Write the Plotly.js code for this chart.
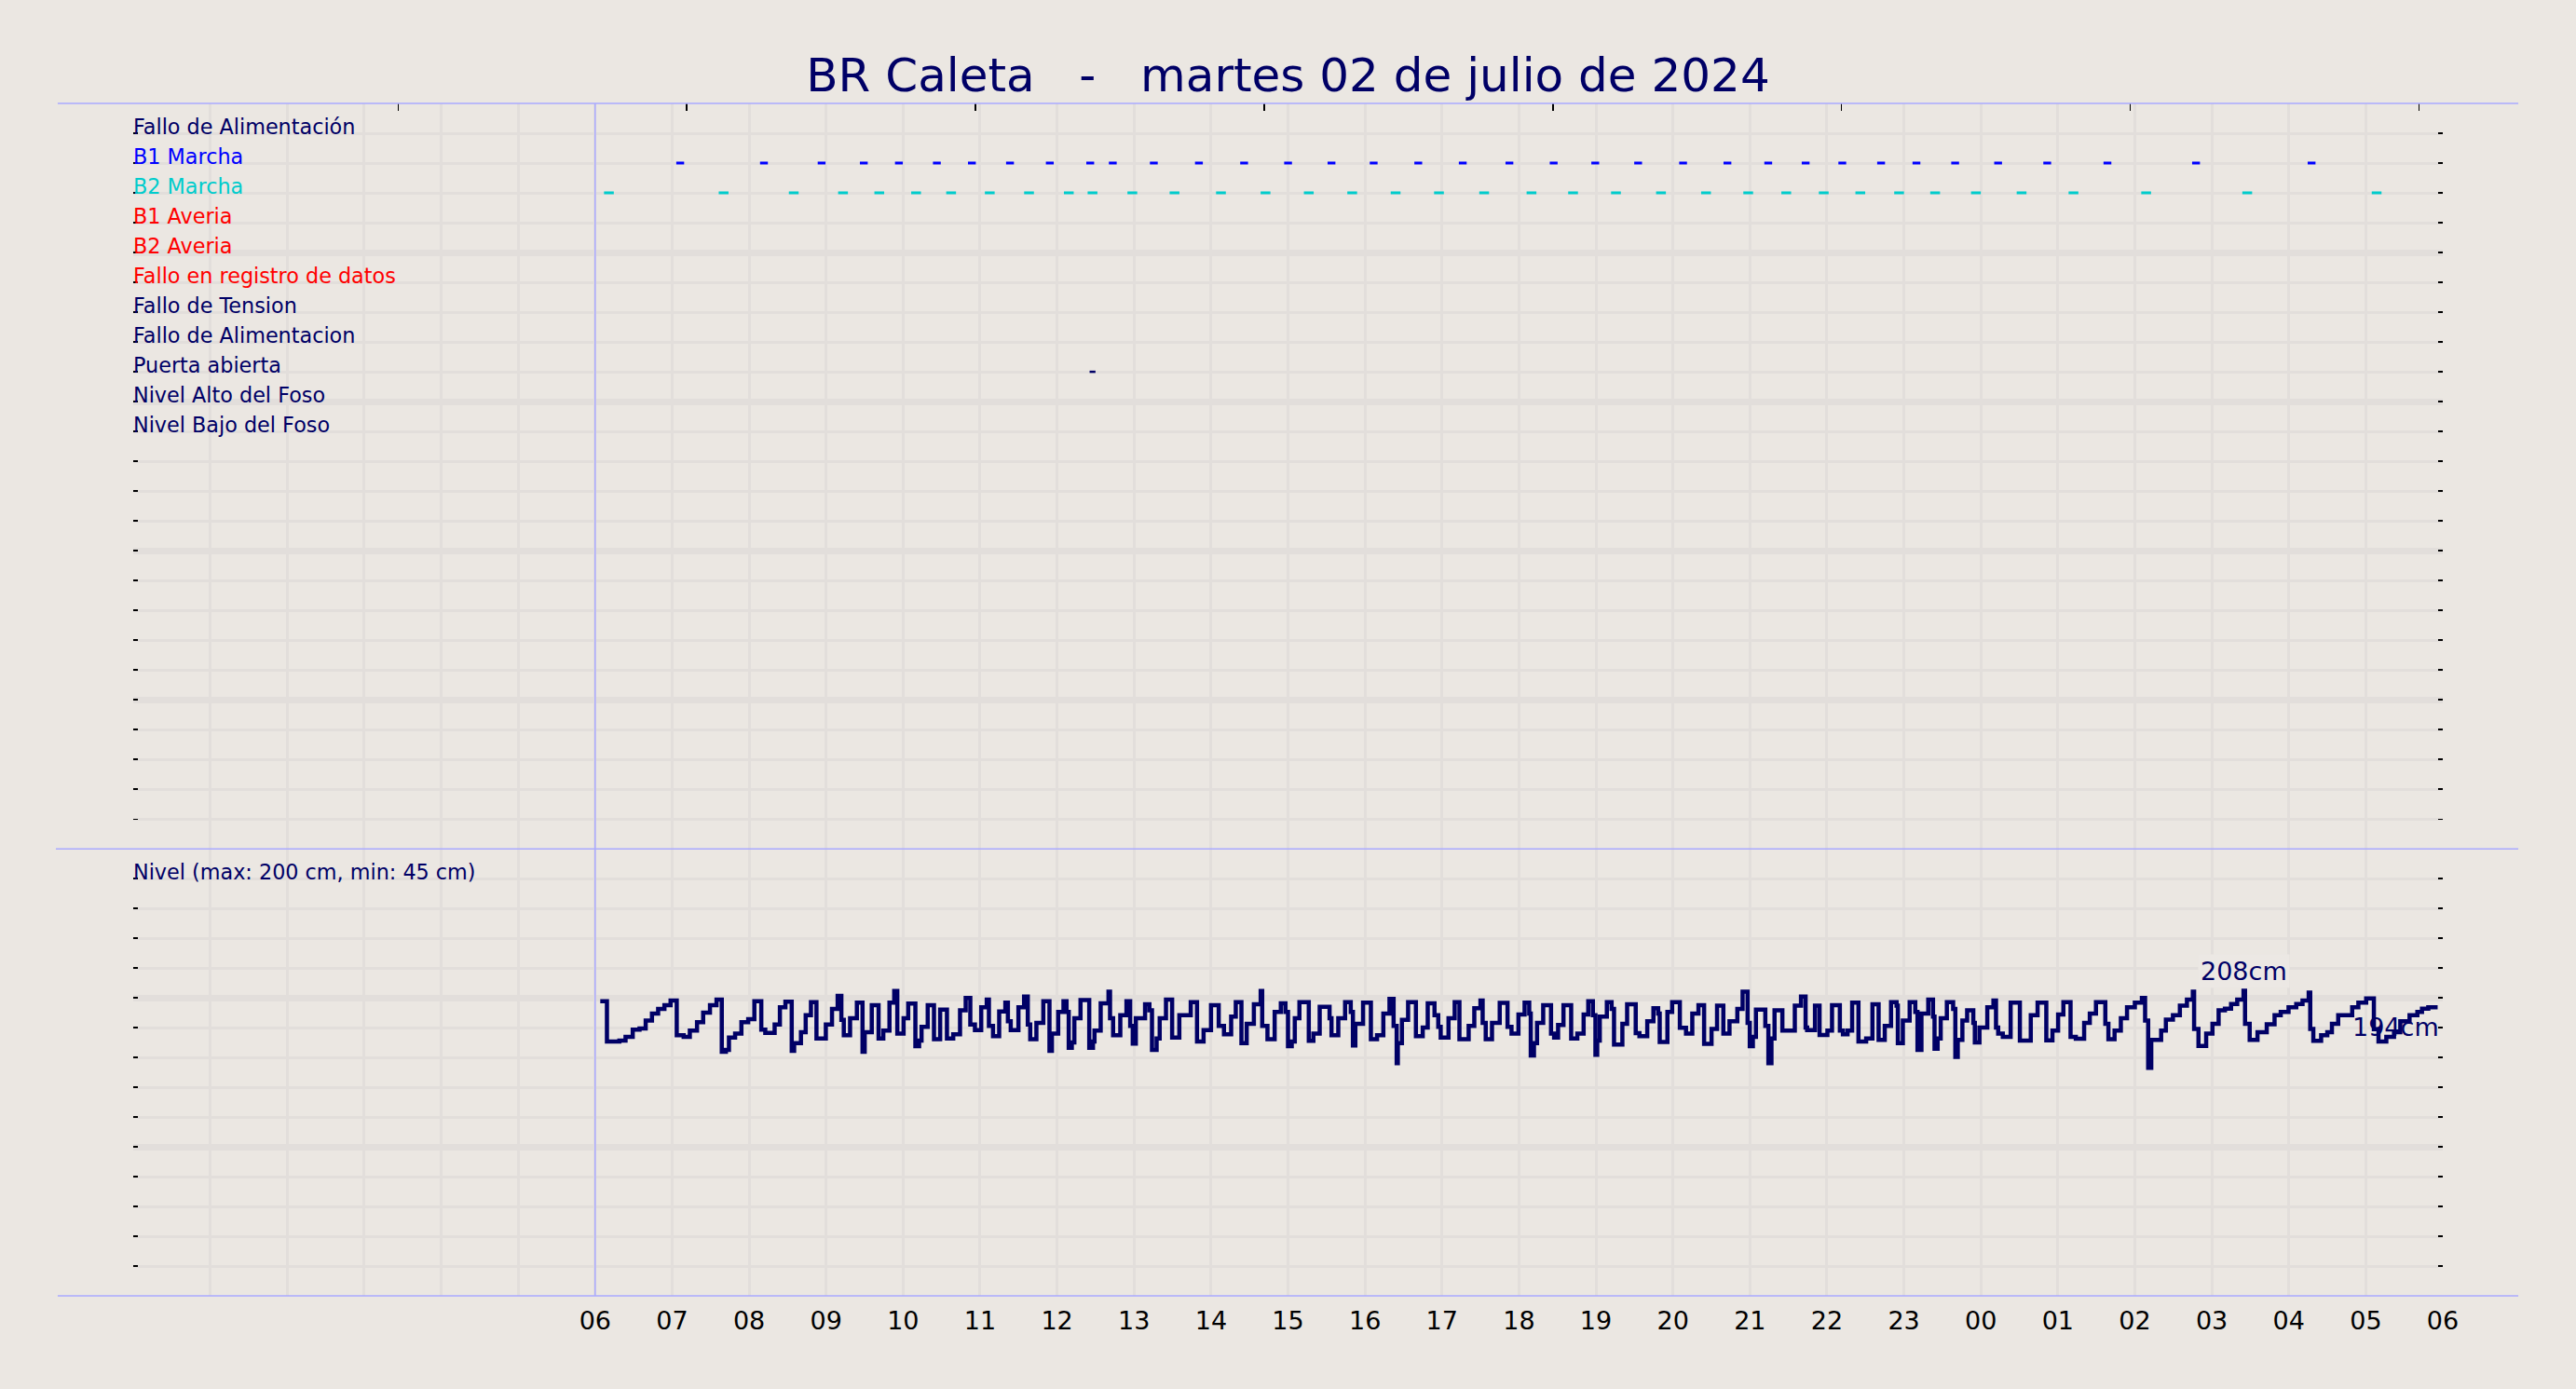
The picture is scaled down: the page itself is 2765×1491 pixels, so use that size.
<!DOCTYPE html>
<html>
<head>
<meta charset="utf-8">
<script src="https://cdn.plot.ly/plotly-3.0.1.min.js"></script>
<style>html,body{margin:0;padding:0;background:#ebe7e2;}</style>
</head>
<body>
<div id="chart" style="width:2765px;height:1491px;"></div>
<script>
// ---------- DATA ----------
const chartTitle = 'BR Caleta\u00a0\u00a0\u00a0-\u00a0\u00a0\u00a0martes 02 de julio de 2024';

const signalLabels = ['Fallo de Alimentación','B1 Marcha','B2 Marcha','B1 Averia','B2 Averia',
  'Fallo en registro de datos','Fallo de Tension','Fallo de Alimentacion','Puerta abierta',
  'Nivel Alto del Foso','Nivel Bajo del Foso'];
const signalColors = ['#000066','#0000ff','#00cccc','#ff0000','#ff0000','#ff0000',
  '#000066','#000066','#000066','#000066','#000066'];

const levelLabel = 'Nivel (max: 200 cm, min: 45 cm)';

// event times (hours on the 0-30 axis; 6 = 06:00)
const b1MarchaHours = [7.105,8.193,8.942,9.490,9.946,10.439,10.894,11.389,11.906,12.431,12.724,13.257,
  13.843,14.430,15.001,15.565,16.113,16.692,17.270,17.876,18.451,18.991,19.548,20.132,20.708,21.238,
  21.724,22.200,22.704,23.163,23.666,24.224,24.862,25.644,26.795,28.296];
const b2MarchaHours = [6.179,7.669,8.580,9.220,9.691,10.169,10.624,11.126,11.636,12.153,12.461,12.978,
  13.526,14.129,14.708,15.270,15.834,16.398,16.961,17.548,18.163,18.703,19.260,19.845,20.430,20.978,
  21.472,21.959,22.434,22.938,23.406,23.936,24.529,25.203,26.147,27.460,29.141];
const puertaHours = [12.461];

// level: minutes after 06:00 and centimetres
const levelMin = [4.0,9.2,18.9,23.7,29.3,34.6,39.4,44.3,49.1,54.0,58.8,63.6,69.0,73.8,79.4,84.2,89.5,94.6,
  98.7,101.9,104.3,109.1,114.0,119.3,124.1,129.5,132.6,139.9,144.0,148.3,153.2,155.1,160.4,164.1,168.2,
  172.5,179.8,184.6,189.0,191.9,193.8,198.7,204.0,208.4,210.1,215.6,220.9,224.6,229.4,
  233.1,235.5,240.4,244.0,249.6,252.5,254.4,259.2,264.1,268.9,274.2,279.1,284.4,288.8,292.4,296.0,300.9,
  305.2,306.9,310.1,314.9,319.7,321.7,323.9,329.9,334.3,337.2,339.1,343.9,349.3,354.1,356.0,360.9,365.0,
  367.4,369.1,371.5,373.5,378.3,385.1,388.0,389.2,394.0,400.1,401.3,403.7,409.3,414.1,417.0,419.0,421.4,
  428.6,432.0,434.0,437.6,440.0,444.9,449.7,455.3,464.2,469.1,474.2,
  480.0,486.0,490.1,495.7,499.3,503.7,507.8,513.4,518.7,519.9,524.0,529.6,534.4,538.0,540.0,542.9,545.3,
  548.9,556.2,559.8,564.7,572.4,573.9,579.2,584.5,588.9,590.6,592.5,598.5,604.6,609.4,614.3,619.1,622.3,
  624.7,625.6,628.8,633.6,639.7,645.0,648.9,654.2,657.1,659.0,665.1,669.9,673.6,680.8,685.2,690.0,691.7,
  694.1,699.0,705.0,711.1,714.2,
  719.6,724.4,728.0,729.2,731.7,734.1,738.9,745.0,747.4,750.5,754.7,760.7,765.5,770.4,774.0,777.6,779.6,
  781.0,783.0,788.5,792.2,794.1,800.6,804.3,811.0,813.9,820.0,824.8,828.5,829.7,835.7,839.4,845.4,850.2,
  855.1,859.9,864.3,870.1,874.4,879.3,884.1,890.2,894.3,898.2,899.9,902.3,904.7,912.0,914.4,916.8,919.2,
  925.3,935.0,939.8,943.4,944.6,950.7,954.3,
  960.4,964.0,970.1,972.5,976.1,979.7,984.6,990.6,995.5,1000.3,1005.1,1010.0,1014.3,1015.3,1019.2,1024.5,
  1028.9,1030.6,1033.7,1039.0,1042.7,1043.9,1046.3,1048.7,1053.5,1058.4,1060.1,1062.0,1065.6,1069.3,
  1074.1,1075.3,1078.9,1085.0,1089.8,1091.8,1093.5,1097.1,1103.2,1110.4,1118.9,1124.2,1131.0,1135.8,
  1140.2,1144.3,1149.9,1154.0,1160.5,1164.9,1169.7,1177.0,1179.4,1184.2,1189.1,1193.9,
  1200.0,1205.5,1208.0,1210.4,1212.8,1220.5,1224.2,1229.7,1235.1,1240.6,1245.2,1246.2,1249.6,1255.6,
  1260.5,1265.3,1270.2,1275.0,1279.8,1284.7,1285.9,1289.5,1295.6,1302.8,1308.9,1313.7,1319.8,1325.8,
  1330.7,1335.5,1336.7,1339.1,1345.2,1350.0,1353.6,1358.5,1369.4,1374.2,1380.3,1386.3,1389.9,1396.0,
  1402.0,1406.9,1414.1,1420.2,1423.8,1428.7,1436.0];
const levelCm = [201.1,173.6,174.2,176.8,181.6,182.5,187.8,192.7,195.8,198.4,201.6,177.8,176.8,181.0,186.7,193.3,198.4,202.2,
  166.6,167.9,176.3,178.9,186.7,188.8,201.1,181.6,179.5,185.2,196.9,200.7,167.2,172.5,180.0,191.6,200.5,
  175.7,185.2,195.8,204.7,188.4,177.8,189.5,200.1,166.6,180.0,198.4,175.7,181.0,200.1,
  208.1,178.9,189.5,199.4,170.4,174.2,183.5,198.4,175.1,195.4,175.7,178.5,194.8,203.3,185.2,181.4,196.9,
  202.2,184.2,177.2,194.1,200.1,187.4,181.4,196.9,204.3,185.2,175.1,186.3,201.1,167.2,178.9,193.7,201.1,
  193.7,169.3,173.0,189.5,201.8,169.3,173.6,181.0,199.7,207.5,189.5,177.8,191.6,201.1,184.2,172.1,189.5,
  199.0,194.8,167.9,175.7,189.5,202.2,176.3,191.6,200.5,173.6,181.4,
  198.4,184.2,178.5,190.5,200.5,172.5,185.7,199.0,208.1,184.2,175.1,193.7,199.7,193.7,170.4,173.6,189.5,
  200.5,174.0,178.9,197.3,189.5,177.8,189.5,200.5,193.7,170.8,185.7,200.1,175.1,177.8,192.7,202.6,184.2,
  158.8,172.5,188.4,200.5,177.2,183.1,199.7,191.6,183.5,176.3,189.5,200.5,175.1,184.2,196.3,201.6,186.3,
  175.1,186.3,199.9,183.5,178.9,
  192.0,200.1,192.7,164.0,172.5,186.3,198.4,178.9,176.3,184.8,198.4,175.7,178.9,192.0,201.1,191.6,164.5,
  174.2,190.5,200.5,195.8,171.5,185.7,199.0,179.3,177.2,187.4,196.3,192.7,173.2,193.7,200.5,182.9,178.9,
  192.7,198.4,171.9,182.1,198.0,178.9,187.4,195.8,207.5,186.3,170.4,176.8,195.4,184.2,158.8,175.7,194.8,
  181.0,198.0,204.3,183.1,181.4,198.0,178.0,
  181.0,198.4,181.0,178.5,181.0,200.1,173.6,175.7,199.0,174.6,184.2,200.5,198.0,172.5,187.8,200.5,
  193.7,167.9,192.7,202.2,190.5,168.7,175.7,189.5,200.5,195.8,163.0,174.6,187.8,194.8,
  186.3,173.0,183.1,196.9,201.6,183.1,178.9,176.8,200.1,174.2,191.6,200.1,174.4,181.0,
  192.0,200.5,176.8,175.5,186.3,192.7,200.5,185.7,175.1,181.0,189.5,196.9,
  200.1,203.3,187.8,155.6,174.7,181.0,188.5,191.6,198.0,202.2,207.5,182.1,170.5,178.9,
  185.7,194.8,195.9,199.1,202.2,208.2,185.7,174.7,180.0,185.3,191.6,193.8,197.0,199.1,
  201.6,206.9,182.1,174.1,177.9,180.0,185.7,191.6,197.0,200.1,202.9,182.0,173.6,176.8,
  180.0,187.4,191.6,193.8,195.9,197.0,197.0];

const maxLabel = '208cm';
const lastLabel = '194cm';

const hourTickVals = [0,1,2,3,4,5,6,7,8,9,10,11,12,13,14,15,16,17,18,19,20,21,22,23,24,25,26,27,28,29,30];
const hourTickText = ['','','','','','','06','07','08','09','10','11','12','13','14','15','16','17','18',
  '19','20','21','22','23','00','01','02','03','04','05','06'];
const topTickVals = [3.44,7.19,10.94,14.69,18.44,22.19,25.94,29.69];

// ---------- BUILD ----------
const NAVY = '#000066';
const BG = '#ebe7e2';
const GRID = '#e2dedb';
const LAV = '#aaaaff';
const FONT = 'DejaVu Sans, Verdana, sans-serif';

const levelX = levelMin.map(m => 6 + m / 60);

function rowOf(label){ return signalLabels.indexOf(label) + 1; }

const traces = [
  {x: b1MarchaHours, y: b1MarchaHours.map(() => rowOf('B1 Marcha')), xaxis:'x2', yaxis:'y2',
   mode:'markers', type:'scatter', hoverinfo:'skip',
   marker:{symbol:'line-ew', size:6, line:{width:3, color:'#0000ff'}}},
  {x: b2MarchaHours, y: b2MarchaHours.map(() => rowOf('B2 Marcha')), xaxis:'x2', yaxis:'y2',
   mode:'markers', type:'scatter', hoverinfo:'skip',
   marker:{symbol:'line-ew', size:7.5, line:{width:3, color:'#00cccc'}}},
  {x: puertaHours, y: puertaHours.map(() => rowOf('Puerta abierta')), xaxis:'x2', yaxis:'y2',
   mode:'markers', type:'scatter', hoverinfo:'skip',
   marker:{symbol:'line-ew', size:4.5, line:{width:2.5, color:NAVY}}},
  {x: levelX, y: levelCm, xaxis:'x', yaxis:'y', mode:'lines', type:'scatter',
   line:{shape:'hv', color:NAVY, width:4.5}, hoverinfo:'skip'},
  {x: [null], y: [null], xaxis:'x3', yaxis:'y2', mode:'markers', type:'scatter', hoverinfo:'skip', showlegend:false}
];

const annotations = [];
signalLabels.forEach((lab, i) => {
  annotations.push({xref:'x2', yref:'y2', x:0, y:i + 1, text:lab, showarrow:false,
    xanchor:'left', yanchor:'bottom', xshift:-2, yshift:-8,
    font:{family:FONT, size:22.3, color:signalColors[i]}});
});
annotations.push({xref:'x', yref:'y', x:0, y:305 - 305/15, text:levelLabel, showarrow:false,
  xanchor:'left', yanchor:'bottom', xshift:-2, yshift:-8, font:{family:FONT, size:22.3, color:NAVY}});

let iMax = 0;
levelCm.forEach((v, i) => { if (v > levelCm[iMax]) iMax = i; });
annotations.push({xref:'x', yref:'y', x: levelX[iMax], y: levelCm[iMax], text:maxLabel, showarrow:false,
  xanchor:'center', yanchor:'middle', yshift:21, bgcolor:'#ece8e4', borderpad:2,
  font:{family:FONT, size:27, color:NAVY}});
const iLast = levelCm.length - 1;
annotations.push({xref:'x', yref:'y', x: levelX[iLast], y: levelCm[iLast], text:lastLabel, showarrow:false,
  xanchor:'right', yanchor:'middle', yshift:-21, xshift:4,
  font:{family:FONT, size:27, color:NAVY}});

const split = 0.3748;
const yCommon = {showticklabels:false, zeroline:false, showline:false, ticks:'inside', ticklen:5,
  tickwidth:1.5, tickcolor:'#000000', mirror:'ticks', gridcolor:GRID, gridwidth:7, showgrid:true, fixedrange:true};

const layout = {
  width:2765, height:1491, autosize:false,
  paper_bgcolor:BG, plot_bgcolor:BG,
  margin:{l:143, r:143, t:111, b:100, pad:0},
  showlegend:false,
  font:{family:FONT, color:'#000000'},
  title:{text:chartTitle, x:0.5, xref:'container', y:0.946, yref:'container', xanchor:'center', yanchor:'middle',
    font:{family:FONT, size:50, color:NAVY}},
  xaxis:{domain:[0,1], anchor:'y', range:[0,30], tickmode:'array', tickvals:hourTickVals, ticktext:hourTickText,
    ticks:'', showgrid:true, gridcolor:GRID, gridwidth:3, zeroline:false, showline:false,
    tickfont:{family:FONT, size:27, color:'#000000'}, ticklabelstandoff:8},
  xaxis2:{domain:[0,1], anchor:'y2', matches:'x', range:[0,30], tickmode:'array', tickvals:hourTickVals,
    showticklabels:false, ticks:'', showgrid:true, gridcolor:GRID, gridwidth:3, zeroline:false, showline:false},
  xaxis3:{overlaying:'x2', anchor:'y2', side:'top', range:[0,30], tickmode:'array', tickvals:topTickVals,
    showticklabels:false, ticks:'inside', ticklen:8, tickwidth:1.5, tickcolor:'#000000',
    showgrid:false, zeroline:false, showline:false},
  yaxis:Object.assign({}, yCommon, {domain:[0, split], anchor:'x', range:[0,305], tick0:0, dtick:305/3,
    minor:{tick0:0, dtick:305/15, showgrid:true, gridcolor:GRID, gridwidth:3, ticks:'inside', ticklen:5, tickcolor:'#000000', tickwidth:1.5}}),
  yaxis2:Object.assign({}, yCommon, {domain:[split, 1], anchor:'x2', range:[25,0], tick0:0, dtick:5,
    minor:{tick0:0, dtick:1, showgrid:true, gridcolor:GRID, gridwidth:3, ticks:'inside', ticklen:5, tickcolor:'#000000', tickwidth:1.5}}),
  annotations:annotations,
  shapes:[
    {type:'line', xref:'paper', yref:'paper', x0:-0.0327, x1:1.0327, y0:1, y1:1, line:{color:LAV, width:1.5}},
    {type:'line', xref:'paper', yref:'paper', x0:-0.0335, x1:1.0327, y0:split, y1:split, line:{color:LAV, width:1.5}},
    {type:'line', xref:'paper', yref:'paper', x0:-0.0327, x1:1.0327, y0:0, y1:0, line:{color:LAV, width:1.5}},
    {type:'line', xref:'x', yref:'paper', x0:6, x1:6, y0:0, y1:1, line:{color:LAV, width:1.5}}
  ]
};

Plotly.newPlot('chart', traces, layout, {displayModeBar:false, staticPlot:true});
</script>
</body>
</html>
